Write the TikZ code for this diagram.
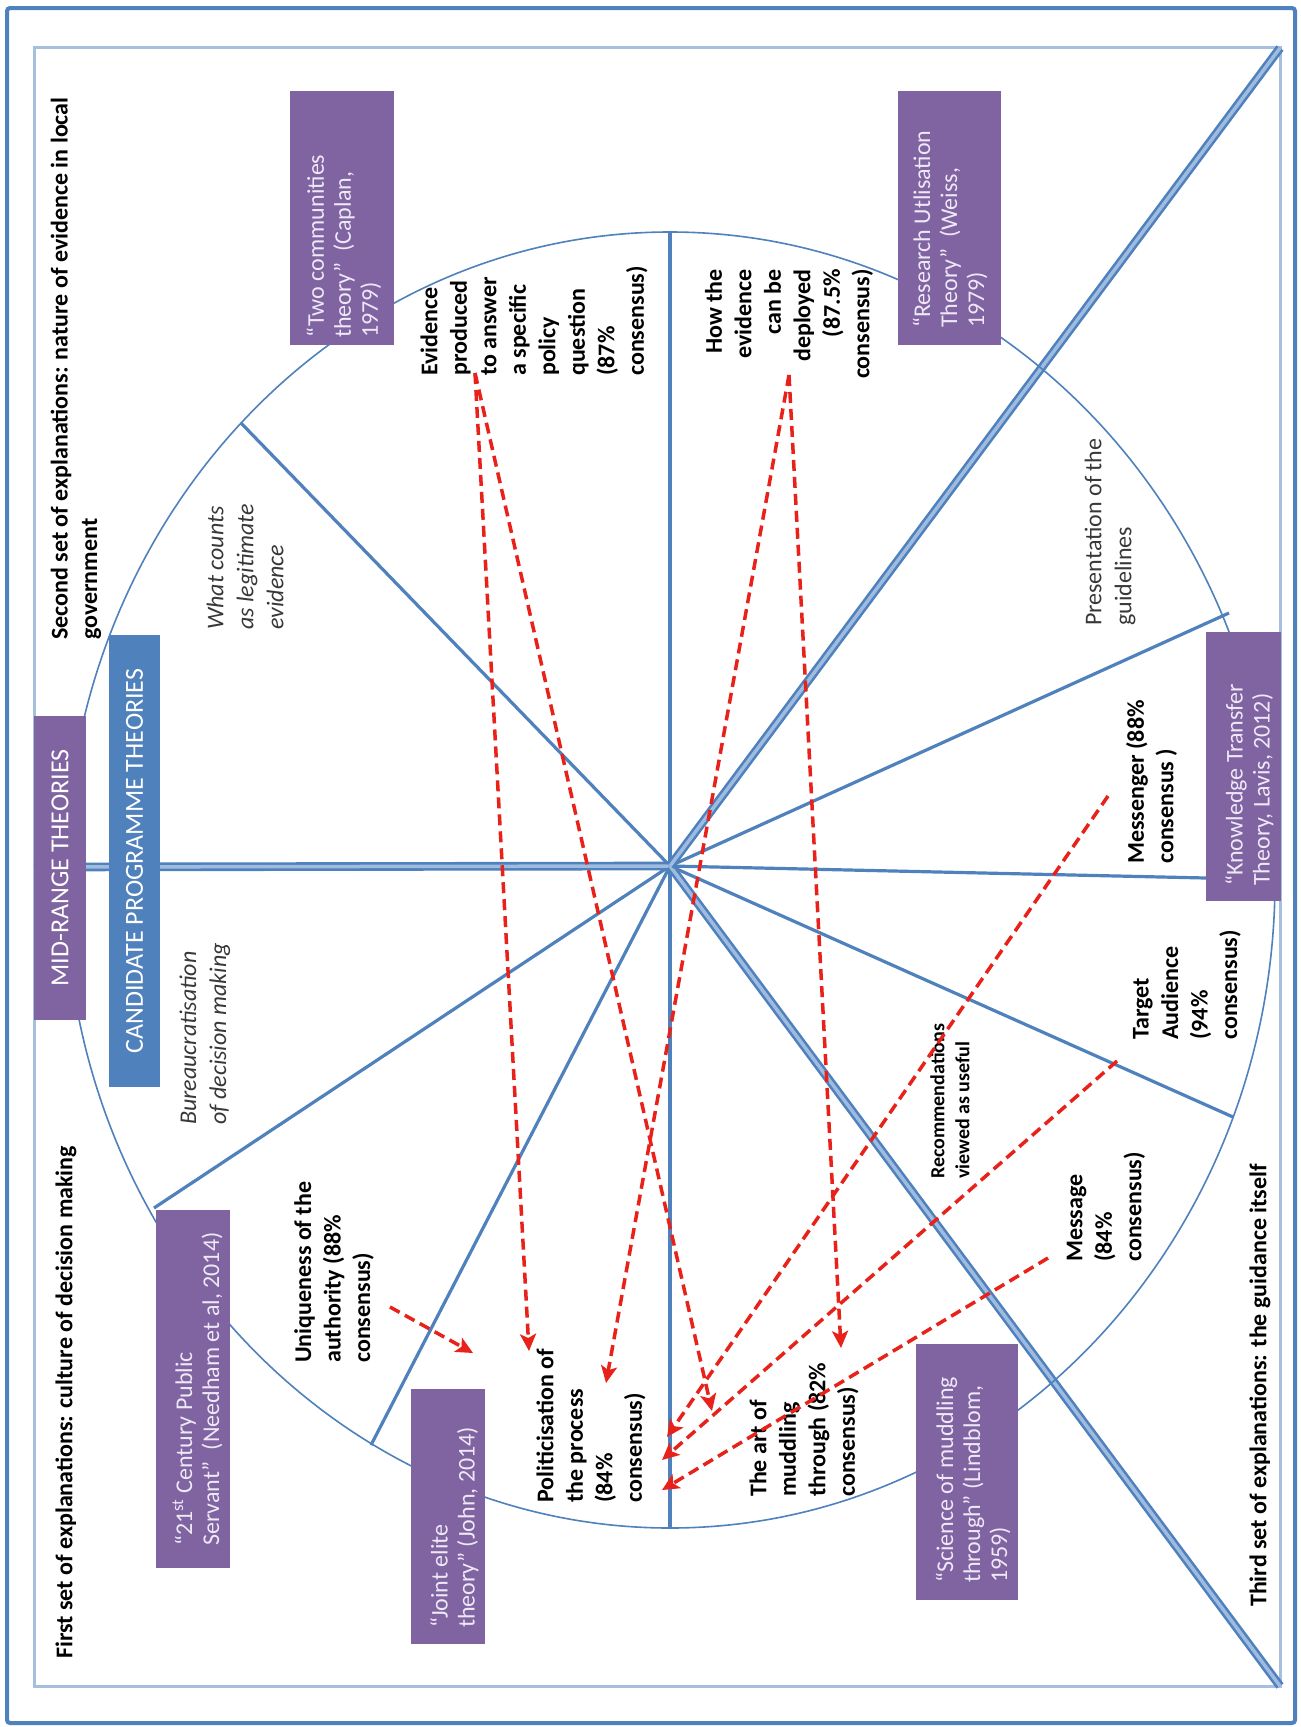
\documentclass[tikz,border=0pt]{standalone}
\usepackage{fontspec}
\setmainfont{Carlito}
\usetikzlibrary{arrows.meta}

\definecolor{frameblue}{HTML}{4F81BD}
\definecolor{rayblue}{HTML}{4F81BD}
\definecolor{rimblue}{HTML}{A7BFDE}
\definecolor{lightcore}{HTML}{9FBCE0}
\definecolor{purpfill}{HTML}{8064A2}
\definecolor{purptext}{HTML}{EEE8F6}
\definecolor{linkred}{HTML}{E8221A}
\definecolor{softtext}{HTML}{383838}

\newcommand{\lblfont}{\fontsize{24}{29.5}\selectfont\bfseries}
\newcommand{\boxfont}{\fontsize{24}{27}\selectfont}
\newcommand{\capsfont}{\fontsize{26}{30}\selectfont}
\newcommand{\notefont}{\fontsize{24}{30}\selectfont\itshape}

\begin{document}
\begin{tikzpicture}[x=1pt,y=-1pt,
  ray/.style={draw=rayblue, line width=3.2pt},
  wideray/.style={draw=rayblue, line width=2.6pt, double=lightcore, double distance=3.5pt},
  rim/.style={draw=rayblue, line width=1.6pt},
  lbl/.style={rotate=90, inner sep=0pt, font=\lblfont, text=black},
  note/.style={rotate=90, inner sep=0pt, font=\notefont, text=softtext},
  plain/.style={rotate=90, inner sep=0pt, font=\fontsize{24}{30}\selectfont, text=softtext},
  pbox/.style={fill=purpfill, draw=none, inner sep=0pt},
  ptext/.style={rotate=90, inner sep=0pt, font=\boxfont, text=purptext, align=left, anchor=west},
  headbox/.style={rotate=90, inner sep=0pt, font=\capsfont, text=white},
  link/.style={draw=linkred, line width=3.5pt, dash pattern=on 11pt off 6pt,
    -{Stealth[length=17pt, width=16pt, inset=4pt]}}
]
\useasboundingbox (0,0) rectangle (1301,1727);
\fill[white] (0,0) rectangle (1301,1727);

% outer frame and inner panel
\draw[frameblue, line width=4pt, rounded corners=3pt] (7,8) rectangle (1295,1723);
\draw[rimblue, line width=3pt] (34,47) rectangle (1280,1686);

% hub and points on the rim
\coordinate (C) at (670,866);
\coordinate (rN) at (670,232);
\coordinate (rNW) at (241,423);
\coordinate (rW) at (34,867);
\coordinate (rSW1) at (154,1208);
\coordinate (rSW2) at (371,1445);
\coordinate (rS) at (670,1528);
\coordinate (rSE) at (1280,1686);
\coordinate (rESE) at (1233,1117);
\coordinate (rE) at (1206,878);
\coordinate (rENE) at (1229,613);
\coordinate (rNE) at (1280,48);

% spokes
\draw[ray] (C) -- (rN);
\draw[ray] (C) -- (rNW);
\draw[ray] (C) -- (rSW1);
\draw[ray] (C) -- (rSW2);
\draw[ray] (C) -- (rS);
\draw[ray] (C) -- (rESE);
\draw[ray] (C) -- (rE);
\draw[ray] (C) -- (rENE);
\draw[wideray] (C) -- (rW);
\draw[wideray] (C) -- (rSE);
\draw[wideray] (C) -- (rNE);

% the wheel
\draw[rim] (670,880) ellipse [x radius=605, y radius=648];

% heading boxes
\node[headbox, fill=purpfill, minimum width=304, minimum height=52] (midrange) at (60,868) {MID-RANGE THEORIES};
\node[headbox, fill=frameblue, minimum width=452, minimum height=51] (candidate) at (134.5,861) {CANDIDATE PROGRAMME THEORIES};

% theory boxes
\node[pbox, minimum width=104, minimum height=254] (twobox) at (342,218) {};
\node[ptext] (twotext) at (344,338) {“Two communities\\theory”\ \ (Caplan,\\1979)};

\node[pbox, minimum width=103, minimum height=254] (resbox) at (949.5,218) {};
\node[ptext] (restext) at (950,328) {“Research Utlisation\\Theory”\ \ (Weiss,\\1979)};

\node[pbox, minimum width=74, minimum height=358] (pubbox) at (193,1389) {};
\node[ptext] (pubtext) at (197.5,1546) {“21\textsuperscript{st} Century Public\\Servant”\ \ (Needham et al, 2014)};

\node[pbox, minimum width=74, minimum height=255] (elitebox) at (448,1516.5) {};
\node[ptext] (elitetext) at (454.5,1628) {“Joint elite\\theory” (John, 2014)};

\node[pbox, minimum width=102, minimum height=256] (scibox) at (967,1472) {};
\node[ptext] (scitext) at (973,1583) {“Science of muddling\\through” (Lindblom,\\1959)};

\node[pbox, minimum width=75, minimum height=269] (ktbox) at (1243.5,766.5) {};
\node[ptext] (kttext) at (1249.5,886) {“Knowledge Transfer\\Theory, Lavis, 2012)};

% section headings
\node[lbl, align=left, anchor=west] (second) at (76,640) {Second set of explanations: nature of evidence in local\\government};
\node[lbl, anchor=west] (first) at (66,1659) {First set of explanations: culture of decision making};
\node[lbl, anchor=west] (third) at (1260,1607) {Third set of explanations: the guidance itself};

% segment notes
\node[note, align=left, anchor=west] (counts) at (245,630) {What counts\\as legitimate\\evidence};
\node[note, align=left, anchor=west] (bureau) at (205,1125) {Bureaucratisation\\of decision making};
\node[plain, align=left, anchor=west] (present) at (1110,626) {Presentation of the\\guidelines};

% findings
\node[lbl, align=left, anchor=west] (evid) at (534,376) {Evidence\\produced\\to answer\\a specific\\policy\\question\\(87\%\\consensus)};
\node[lbl, align=right, anchor=east] (deploy) at (789,269) {How the\\evidence\\can be\\deployed\\(87.5\%\\consensus)};
\node[lbl, align=left, anchor=west] (messenger) at (1151.5,864) {Messenger (88\%\\consensus )};
\node[lbl, align=left, anchor=west] (target) at (1187,1040) {Target\\Audience\\(94\%\\consensus)};
\node[lbl, align=left, anchor=west] (message) at (1106,1262) {Message\\(84\%\\consensus)};
\node[lbl, align=left, anchor=west, font=\fontsize{20}{25}\selectfont\bfseries] (recomm) at (950,1179) {Recommendations\\viewed as useful};
\node[lbl, align=left, anchor=west] (unique) at (334,1363) {Uniqueness of the\\authority (88\%\\consensus)};
\node[lbl, align=left, anchor=west] (politic) at (591,1503) {Politicisation of\\the process\\(84\%\\consensus)};
\node[lbl, align=left, anchor=west] (muddle) at (804,1497) {The art of\\muddling\\through (82\%\\consensus)};

% link ends
\coordinate (evSrc) at (475,373);
\coordinate (depSrc) at (789,375);
\coordinate (msgrSrc) at (1108,796);
\coordinate (tgtSrc) at (1117,1061);
\coordinate (mesSrc) at (1048,1258);
\coordinate (uniqSrc) at (390,1307);
\coordinate (poliA) at (529,1351);
\coordinate (poliB) at (606,1383);
\coordinate (uniqEnd) at (473,1353);
\coordinate (artA) at (712,1411);
\coordinate (artB) at (841,1348);
\coordinate (msgrEnd) at (667,1437);
\coordinate (tgtEnd) at (662,1460);
\coordinate (mesEnd) at (662,1490);

% links
\draw[link] (evSrc) -- (poliA);
\draw[link] (evSrc) -- (artA);
\draw[link] (depSrc) -- (poliB);
\draw[link] (depSrc) -- (artB);
\draw[link] (msgrSrc) -- (msgrEnd);
\draw[link] (tgtSrc) -- (tgtEnd);
\draw[link] (mesSrc) -- (mesEnd);
\draw[link] (uniqSrc) -- (uniqEnd);
\end{tikzpicture}
\end{document}
